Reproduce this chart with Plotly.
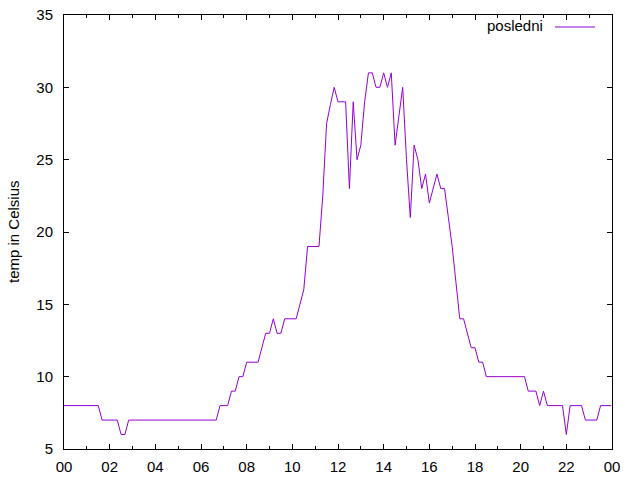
import plotly.graph_objects as go

# temperature log for one day (time of reading, degrees C)
times = ["00:00", "01:30", "01:40", "02:20", "02:30", "02:40", "02:50",
         "06:40", "06:50", "07:10", "07:20", "07:30", "07:40", "07:50",
         "08:00", "08:30", "08:40", "08:50", "09:00", "09:10", "09:20",
         "09:30", "09:40", "10:10", "10:20", "10:30", "10:40", "11:10",
         "11:20", "11:30", "11:40", "11:50", "12:00", "12:20", "12:30",
         "12:40", "12:50", "13:00", "13:10", "13:20", "13:30", "13:40",
         "13:50", "14:00", "14:10", "14:20", "14:30", "14:40", "14:50",
         "15:00", "15:10", "15:20", "15:30", "15:40", "15:50", "16:00",
         "16:10", "16:20", "16:30", "16:40", "16:50", "17:00", "17:10",
         "17:20", "17:30", "17:40", "17:50", "18:00", "18:10", "18:20",
         "18:30", "20:10", "20:20", "20:40", "20:50", "21:00", "21:10",
         "21:50", "22:00", "22:10", "22:40", "22:50", "23:20", "23:30",
         "23:58"]
temps = [8, 8, 7, 7, 6, 6, 7,
         7, 8, 8, 9, 9, 10, 10,
         11, 11, 12, 13, 13, 14, 13,
         13, 14, 14, 15, 16, 19, 19,
         22.5, 27.5, 28.8, 30, 29, 29, 23,
         29, 25, 26, 29, 31, 31, 30,
         30, 31, 30, 31, 26, 28, 30,
         25, 21, 26, 25, 23, 24, 22,
         23, 24, 23, 23, 21, 19, 16.5,
         14, 14, 13, 12, 12, 11, 11,
         10, 10, 9, 9, 8, 9, 8,
         8, 6, 8, 8, 7, 7, 8,
         8]

day = "2024-01-01 "
x_vals = [day + t for t in times]

line_colour = "#9400D3"
font_family = "Liberation Sans, Arial, sans-serif"

fig = go.Figure()
fig.add_trace(go.Scatter(
    x=x_vals,
    y=temps,
    mode="lines",
    name="posledni",
    line=dict(color=line_colour, width=1),
    showlegend=False
))

fig.update_xaxes(
    type="date",
    range=["2024-01-01 00:00", "2024-01-02 00:00"],
    tick0="2024-01-01 00:00", dtick=7200000, tickformat="%H",
    ticks="inside", ticklen=5, tickcolor="black", tickwidth=1,
    minor=dict(dtick=3600000, ticks="inside", ticklen=3, tickcolor="black", tickwidth=1),
    showline=True, linecolor="black", linewidth=1, mirror="ticks",
    showgrid=False, zeroline=False, automargin=False,
    tickfont=dict(family=font_family, size=15, color="black"),
    ticklabelstandoff=4
)
fig.update_yaxes(
    range=[5, 35], dtick=5,
    ticks="inside", ticklen=5, tickcolor="black", tickwidth=1,
    showline=True, linecolor="black", linewidth=1, mirror="ticks",
    showgrid=False, zeroline=False, automargin=False,
    tickfont=dict(family=font_family, size=15, color="black"),
    ticklabelstandoff=7
)

# gnuplot style key: label left of the sample line
fig.add_annotation(
    text="posledni", xref="paper", yref="paper", x=(545 - 64) / 548, y=(449 - 26) / 434,
    xanchor="right", yanchor="middle",
    showarrow=False, font=dict(family=font_family, size=15, color="black")
)
fig.add_shape(
    type="line", xref="paper", yref="paper",
    x0=(555 - 64) / 548, x1=(595 - 64) / 548,
    y0=(449 - 27) / 434, y1=(449 - 27) / 434,
    line=dict(color=line_colour, width=1)
)

fig.add_annotation(
    text="temp in Celsius", xref="paper", yref="paper", x=0, y=0.5,
    xanchor="center", yanchor="middle", xshift=-51, textangle=-90,
    showarrow=False, font=dict(family=font_family, size=15, color="black")
)

fig.update_layout(
    width=640, height=480,
    margin=dict(l=64, r=28, t=15, b=31),
    paper_bgcolor="white", plot_bgcolor="white",
    showlegend=False
)

# drop the default body margin so the figure sits at the page corner
fig.write_html("out.html", config={"displayModeBar": False},
               post_script="document.body.style.margin = '0';")
